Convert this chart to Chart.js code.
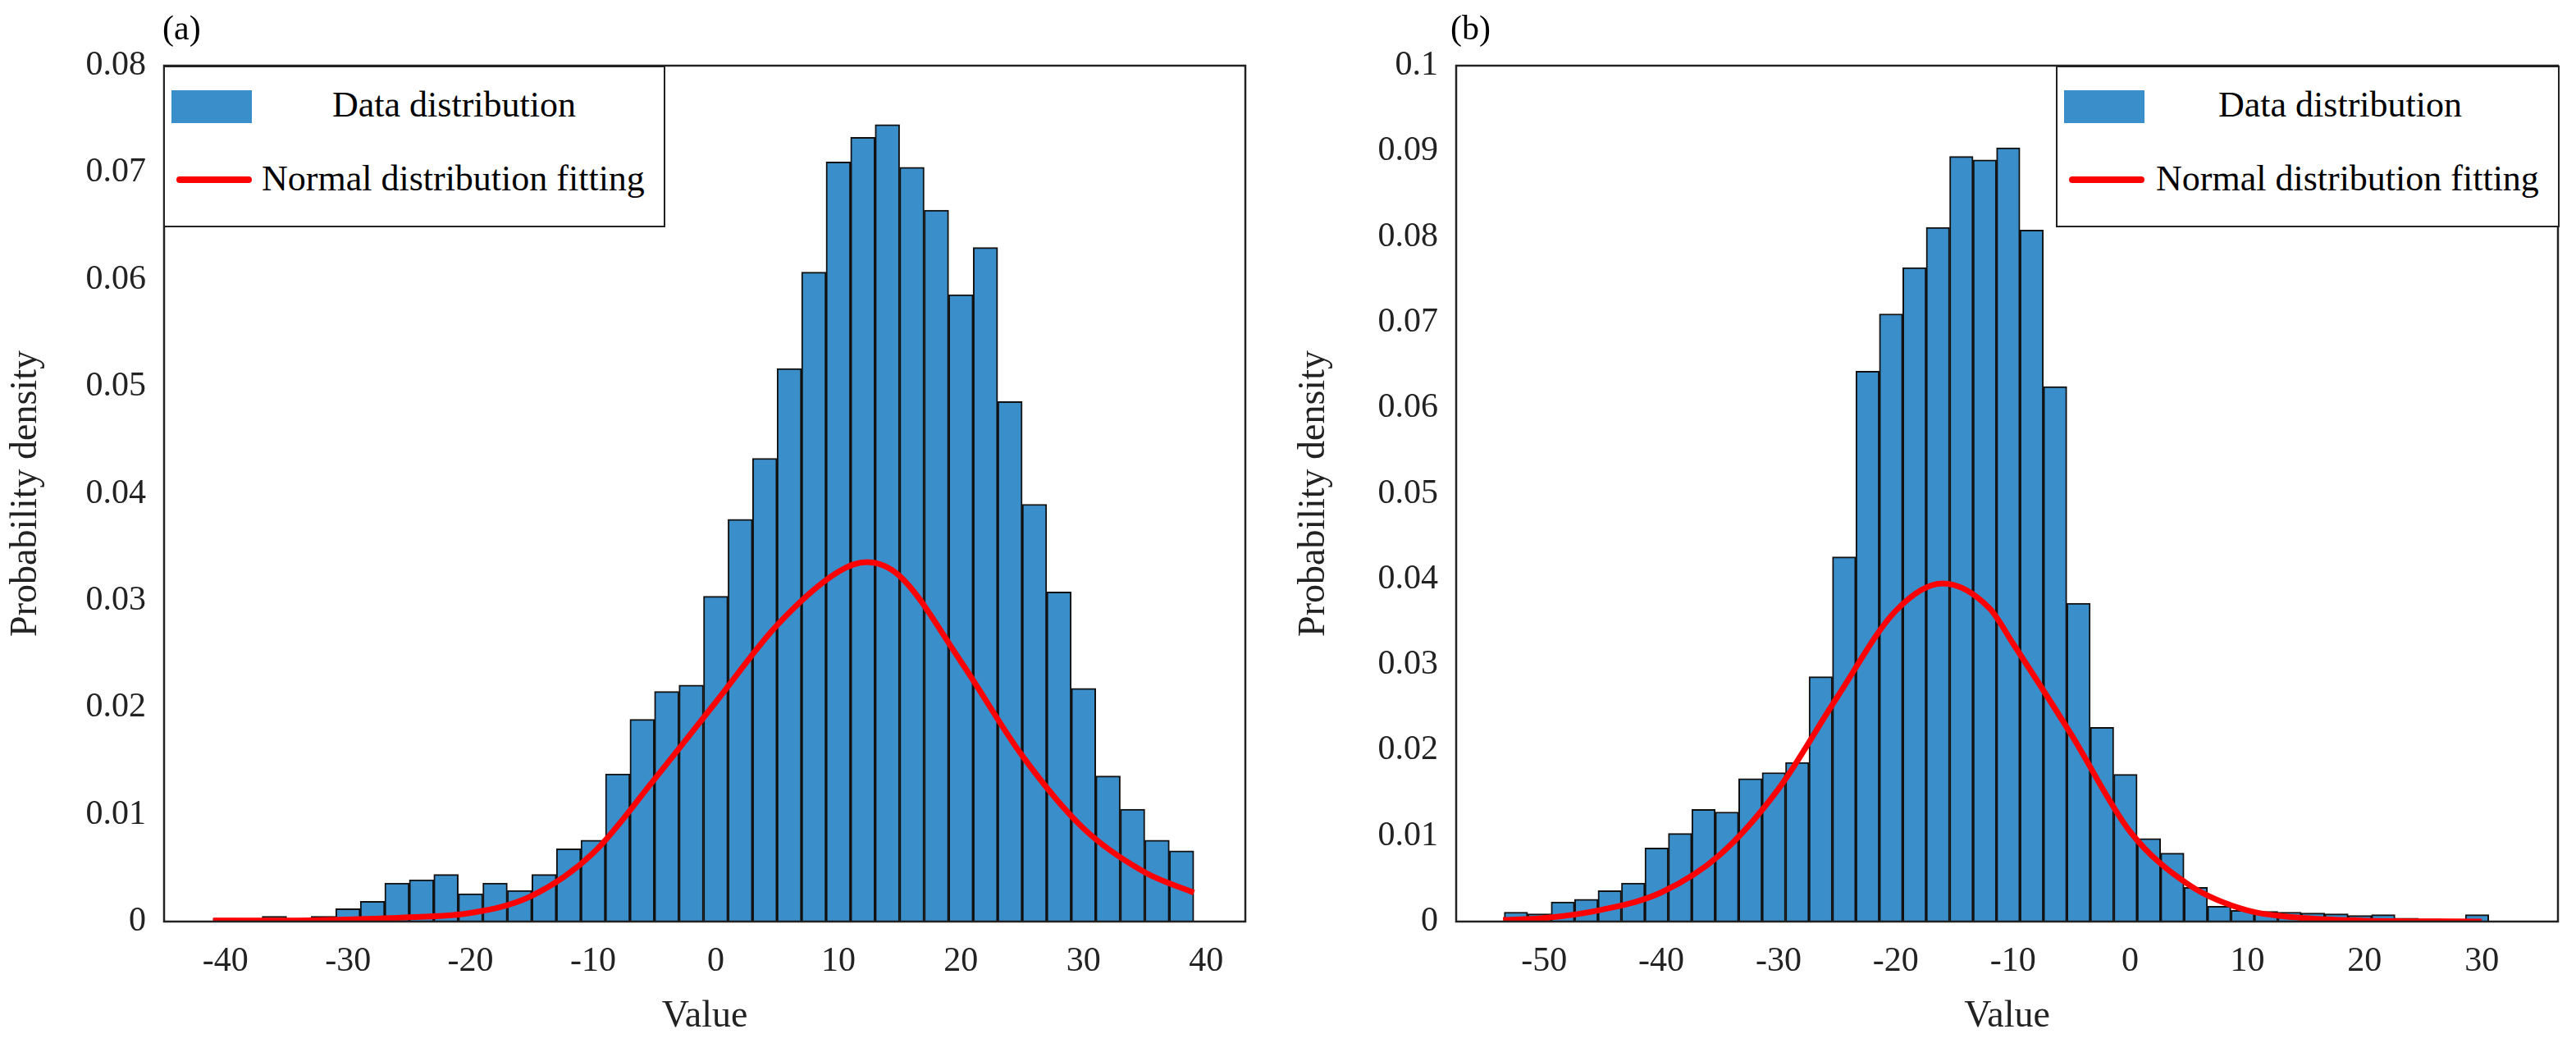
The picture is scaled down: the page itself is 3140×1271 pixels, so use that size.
<!DOCTYPE html>
<html><head><meta charset="utf-8">
<script src="https://cdn.jsdelivr.net/npm/chart.js@4"></script>
<style>
body{margin:0;background:#fff;width:3140px;height:1271px;position:relative;overflow:hidden;font-family:"Liberation Serif","Times New Roman","DejaVu Serif",serif;}
canvas{position:absolute;top:0;}
.lab{position:absolute;font-size:42px;color:#000;}
.leg{position:absolute;border:2px solid #222;background:#fff;box-sizing:border-box;font-size:44px;}
.leg .patch{position:absolute;width:98px;height:40px;background:#3A8FCB;}
.leg .ln{position:absolute;width:92px;height:8px;background:#f00;border-radius:4px;}
.leg span{position:absolute;white-space:nowrap;}
</style></head><body>
<canvas id="ca" style="left:0" width="1570" height="1271"></canvas>
<canvas id="cb" style="left:1570px" width="1570" height="1271"></canvas>
<div class="lab" style="left:198px;top:10px">(a)</div>
<div class="lab" style="left:1768px;top:10px">(b)</div>
<div class="leg" style="left:199px;top:80px;width:612px;height:197px">
  <div class="patch" style="left:8px;top:28px"></div><span style="left:204px;top:20px">Data distribution</span>
  <div class="ln" style="left:14px;top:133px"></div><span style="left:118px;top:110px">Normal distribution fitting</span>
</div>
<div class="leg" style="left:2506px;top:80px;width:614px;height:197px">
  <div class="patch" style="left:8px;top:28px"></div><span style="left:196px;top:20px">Data distribution</span>
  <div class="ln" style="left:14px;top:133px"></div><span style="left:120px;top:110px">Normal distribution fitting</span>
</div>
<script>
// Panel (a)
const binsA = [-40,-38,-36,-34,-32,-30,-28,-26,-24,-22,-20,-18,-16,-14,-12,-10,-8,-6,-4,-2,0,2,4,6,8,10,12,14,16,18,20,22,24,26,28,30,32,34,36,38];
const densA = [0.0003,0.0001,0.0005,0.0001,0.0005,0.0012,0.0019,0.0036,0.0039,0.0044,0.0026,0.0036,0.0029,0.0044,0.0068,0.0076,0.0138,0.0189,0.0215,0.0221,0.0304,0.0376,0.0433,0.0517,0.0607,0.071,0.0733,0.0745,0.0705,0.0665,0.0586,0.063,0.0486,0.039,0.0308,0.0218,0.0136,0.0105,0.0076,0.0066];
const fitXA = [-41,-35,-30,-25,-20,-15,-10,-5,0,5,10,12.3,15,20,25,30,35,39];
const fitYA = [0.0001,0.0001,0.0002,0.0004,0.0008,0.0024,0.0064,0.0133,0.0205,0.0277,0.0327,0.0336,0.0323,0.0243,0.0155,0.0087,0.0046,0.0027];
const ticksA = [-40,-30,-20,-10,0,10,20,30,40];
// Panel (b)
const binsB = [-52.4,-50.4,-48.4,-46.4,-44.4,-42.4,-40.4,-38.4,-36.4,-34.4,-32.4,-30.4,-28.4,-26.4,-24.4,-22.4,-20.4,-18.4,-16.4,-14.4,-12.4,-10.4,-8.4,-6.4,-4.4,-2.4,-0.4,1.6,3.6,5.6,7.6,9.6,11.6,13.6,15.6,17.6,19.6,21.6,23.6,25.6,27.6,29.6];
const densB = [0.0011,0.0009,0.0023,0.0026,0.0036,0.0045,0.0086,0.0103,0.0131,0.0128,0.0167,0.0174,0.0186,0.0286,0.0426,0.0643,0.071,0.0764,0.0811,0.0894,0.089,0.0904,0.0808,0.0625,0.0372,0.0227,0.0172,0.0097,0.008,0.004,0.0018,0.0013,0.0012,0.0011,0.001,0.0009,0.0007,0.0008,0.0004,0.0003,0.0001,0.0008];
const fitXB = [-53.5,-50,-45,-40,-35,-30,-25,-20,-16,-12,-10,-5,0,5,10,15,20,30];
const fitYB = [0.0002,0.0004,0.0014,0.0034,0.0078,0.0155,0.0262,0.0363,0.0395,0.0366,0.0325,0.0218,0.0105,0.0043,0.0013,0.0004,0.0001,0.0000];
const ticksB = [-50,-40,-30,-20,-10,0,10,20,30];

const fam = '"Liberation Serif", "Times New Roman", "DejaVu Serif", serif';
const font = {family:fam, size:42};
const boxPlugin = {id:'box', afterDatasetsDraw(c){const a=c.chartArea,x=c.ctx;x.save();x.strokeStyle='#222';x.lineWidth=2.5;x.strokeRect(a.left,a.top,a.right-a.left,a.bottom-a.top);x.restore();}};

function make(id, bins, dens, fx, fy, xmin, xmax, ymax, ticks, leftW, rightPad){
  new Chart(document.getElementById(id), {
    data:{datasets:[
      {type:'line', data:fx.map((v,i)=>({x:v,y:fy[i]})), borderColor:'#ff0000', borderWidth:7, pointRadius:0, tension:0.4, cubicInterpolationMode:'monotone', order:0},
      {type:'bar', data:bins.map((v,i)=>({x:v,y:dens[i]})), backgroundColor:'#3A8FCB', borderColor:'#111', borderWidth:2, barPercentage:1, categoryPercentage:1, order:1}
    ]},
    options:{responsive:false, animation:false, devicePixelRatio:1,
      layout:{padding:{left:0,top:80,right:rightPad,bottom:0}},
      plugins:{legend:{display:false}, tooltip:{enabled:false}},
      scales:{
        x:{type:'linear', offset:false, min:xmin, max:xmax, grid:{display:false, offset:false}, border:{display:false},
          afterBuildTicks:s=>{s.ticks=ticks.map(v=>({value:v}));},
          afterFit:s=>{s.height=148;},
          ticks:{font, color:'#222', padding:16, maxRotation:0},
          title:{display:true, text:'Value', font:{family:fam,size:46}, color:'#222', padding:{top:10}}},
        y:{min:0, max:ymax, grid:{display:false}, border:{display:false},
          afterFit:s=>{s.width=leftW;},
          ticks:{stepSize:0.01, font, color:'#222', padding:14, callback:v=>String(+v.toFixed(2))},
          title:{display:true, text:'Probability density', font:{family:fam,size:46}, color:'#222'}}
      }},
    plugins:[boxPlugin]
  });
}
make('ca', binsA, densA, fitXA, fitYA, -45, 43.2, 0.08, ticksA, 200, 52);
make('cb', binsB, densB, fitXB, fitYB, -57.5, 36.5, 0.1, ticksB, 205, 22);
</script></body></html>
